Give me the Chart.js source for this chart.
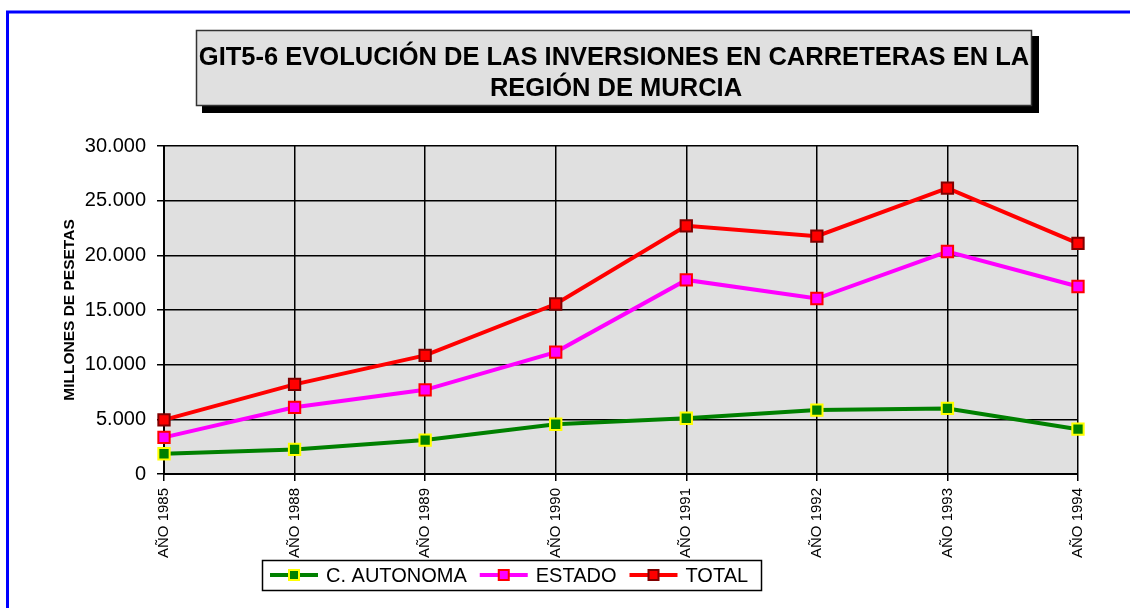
<!DOCTYPE html>
<html>
<head>
<meta charset="utf-8">
<script src="https://cdn.jsdelivr.net/npm/chart.js@4.4.1/dist/chart.umd.min.js"></script>
<style>
  html, body { margin: 0; padding: 0; background: #fff; }
  #wrap { width: 1130px; height: 608px; position: relative; }
</style>
</head>
<body>
<div id="wrap"><canvas id="myChart" width="1130" height="608"></canvas></div>
<script>
// datos (millones de pesetas)
const years = ['AÑO 1985', 'AÑO 1988', 'AÑO 1989', 'AÑO 1990', 'AÑO 1991', 'AÑO 1992', 'AÑO 1993', 'AÑO 1994'];
const cAutonoma = [1850, 2250, 3100, 4550, 5100, 5850, 6000, 4100];
const estado = [3350, 6100, 7700, 11150, 17750, 16050, 20350, 17150];
const total = [4950, 8200, 10850, 15550, 22700, 21750, 26150, 21100];
const yTicks = [0, 5000, 10000, 15000, 20000, 25000, 30000];

const titleLines = ['GIT5-6 EVOLUCIÓN DE LAS INVERSIONES EN CARRETERAS EN LA', 'REGIÓN DE MURCIA'];
const FONT = '"Liberation Sans", Arial, sans-serif';

function fmt(v) {
  return String(v).replace(/\B(?=(\d{3})+(?!\d))/g, '.');
}

// marco azul, fondo gris del area, titulo con sombra
const framePlugin = {
  id: 'framePlugin',
  beforeDraw(chart) {
    const { ctx, chartArea } = chart;
    ctx.save();
    ctx.fillStyle = '#fff';
    ctx.fillRect(0, 0, chart.width, chart.height);
    ctx.strokeStyle = '#0000ff';
    ctx.lineWidth = 3;
    ctx.strokeRect(7.5, 12, 1200, 700);
    ctx.fillStyle = '#e0e0e0';
    ctx.fillRect(chartArea.left, chartArea.top, chartArea.right - chartArea.left, chartArea.bottom - chartArea.top);

    // titulo
    ctx.fillStyle = '#000';
    ctx.fillRect(202, 36, 837, 77);
    ctx.fillStyle = '#e0e0e0';
    ctx.fillRect(196, 30, 836, 76);
    ctx.strokeStyle = '#333';
    ctx.lineWidth = 1.5;
    ctx.strokeRect(196.5, 30.5, 835, 75);
    ctx.fillStyle = '#000';
    ctx.font = 'bold 25.5px ' + FONT;
    ctx.textAlign = 'center';
    ctx.textBaseline = 'middle';
    ctx.fillText(titleLines[0], 614, 58);
    ctx.fillText(titleLines[1], 616, 89);
    ctx.restore();
  }
};

const legendPlugin = {
  id: 'legendPlugin',
  afterDraw(chart) {
    const { ctx } = chart;
    ctx.save();
    ctx.fillStyle = '#fff';
    ctx.fillRect(262, 560, 499, 30);
    ctx.strokeStyle = '#000';
    ctx.lineWidth = 1.5;
    ctx.strokeRect(262.5, 560.5, 499, 30);
    ctx.font = '20px ' + FONT;
    ctx.textBaseline = 'middle';
    ctx.textAlign = 'left';
    let x = 270;
    const y = 575;
    chart.data.datasets.forEach(ds => {
      ctx.strokeStyle = ds.borderColor;
      ctx.lineWidth = 4;
      ctx.beginPath();
      ctx.moveTo(x, y);
      ctx.lineTo(x + 48, y);
      ctx.stroke();
      ctx.fillStyle = ds.pointBackgroundColor;
      ctx.fillRect(x + 19, y - 5, 10, 10);
      ctx.strokeStyle = ds.pointBorderColor;
      ctx.lineWidth = 2;
      ctx.strokeRect(x + 19, y - 5, 10, 10);
      ctx.fillStyle = '#000';
      ctx.fillText(ds.label, x + 56, y + 1);
      x = x + 56 + ctx.measureText(ds.label).width + 13;
    });
    ctx.restore();
  }
};

function makeSet(label, data, line, fill, edge) {
  return {
    label: label,
    data: data,
    borderColor: line,
    borderWidth: 4,
    pointStyle: 'rect',
    pointRadius: 8,
    pointBorderWidth: 2,
    pointBackgroundColor: fill,
    pointBorderColor: edge,
    tension: 0
  };
}

new Chart(document.getElementById('myChart'), {
  type: 'line',
  data: {
    labels: years,
    datasets: [
      makeSet('C. AUTONOMA', cAutonoma, '#008000', '#008000', '#ffff00'),
      makeSet('ESTADO', estado, '#ff00ff', '#ff00ff', '#ff0000'),
      makeSet('TOTAL', total, '#ff0000', '#ff0000', '#800000')
    ]
  },
  options: {
    responsive: false,
    animation: false,
    devicePixelRatio: 1,
    layout: {
      padding: { top: 146, left: 56, right: 52, bottom: 0 }
    },
    plugins: {
      legend: { display: false },
      tooltip: { enabled: false },
      title: { display: false }
    },
    scales: {
      x: {
        offset: false,
        grid: { color: '#000', lineWidth: 1.5, tickLength: 7, tickColor: '#000', tickWidth: 1.5 },
        border: { color: '#000', width: 2 },
        ticks: {
          color: '#000',
          font: { family: FONT, size: 15 },
          minRotation: 90,
          maxRotation: 90,
          autoSkip: false,
          padding: 7
        },
        afterFit(s) { s.height = 134; }
      },
      y: {
        min: 0,
        max: 30000,
        afterBuildTicks(s) { s.ticks = yTicks.map(v => ({ value: v })); },
        grid: { color: '#000', lineWidth: 1.5, tickLength: 7, tickColor: '#000', tickWidth: 1.5 },
        border: { color: '#000', width: 2 },
        ticks: {
          color: '#000',
          font: { family: FONT, size: 20 },
          padding: 11,
          callback: v => fmt(v)
        },
        title: {
          display: true,
          text: 'MILLONES DE PESETAS',
          color: '#000',
          font: { family: FONT, size: 15.5, weight: 'bold' },
          padding: { top: 4, bottom: 4 }
        },
        afterFit(s) { s.width = 108; }
      }
    }
  },
  plugins: [framePlugin, legendPlugin]
});
</script>
</body>
</html>
